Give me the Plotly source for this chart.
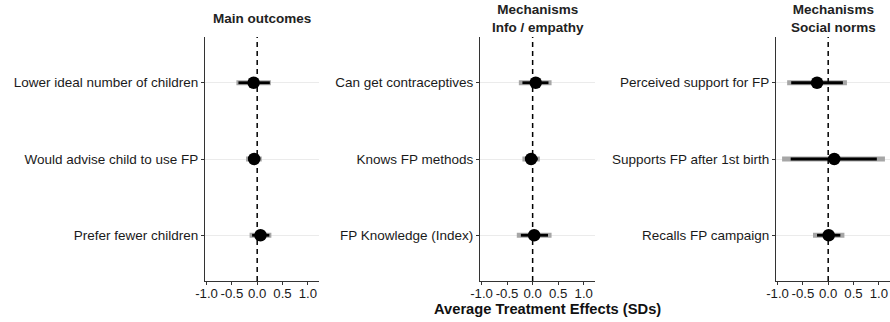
import plotly.graph_objects as go

# ---- data ----
panel_titles = ["Main outcomes", "Mechanisms<br>Info / empathy", "Mechanisms<br>Social norms"]

labels_main = ["Lower ideal number of children", "Would advise child to use FP", "Prefer fewer children"]
est_main = [-0.07, -0.06, 0.065]
lo95_main = [-0.41, -0.22, -0.15]
hi95_main = [0.27, 0.09, 0.28]
lo90_main = [-0.37, -0.18, -0.10]
hi90_main = [0.25, 0.06, 0.24]

labels_info = ["Can get contraceptives", "Knows FP methods", "FP Knowledge (Index)"]
est_info = [0.06, -0.03, 0.03]
lo95_info = [-0.27, -0.20, -0.31]
hi95_info = [0.37, 0.14, 0.37]
lo90_info = [-0.20, -0.15, -0.23]
hi90_info = [0.31, 0.10, 0.30]

labels_norms = ["Perceived support for FP", "Supports FP after 1st birth", "Recalls FP campaign"]
est_norms = [-0.22, 0.12, 0.01]
lo95_norms = [-0.81, -0.91, -0.30]
hi95_norms = [0.37, 1.12, 0.32]
lo90_norms = [-0.73, -0.74, -0.22]
hi90_norms = [0.29, 0.96, 0.24]

x_ticks = [-1.0, -0.5, 0.0, 0.5, 1.0]
x_title = "Average Treatment Effects (SDs)"

panels = [
    (labels_main, est_main, lo95_main, hi95_main, lo90_main, hi90_main),
    (labels_info, est_info, lo95_info, hi95_info, lo90_info, hi90_info),
    (labels_norms, est_norms, lo95_norms, hi95_norms, lo90_norms, hi90_norms),
]

W, H = 890, 322
x_pix = [(205, 319), (480, 595), (776, 890)]
y_top, y_bot = 37, 281
FONT = "Liberation Sans, Arial, sans-serif"

fig = go.Figure()
layout = dict(
    width=W, height=H,
    margin=dict(l=0, r=0, t=0, b=0, autoexpand=False),
    paper_bgcolor="white", plot_bgcolor="white",
    showlegend=False,
    font=dict(family=FONT, size=13.5, color="#1a1a1a"),
)
annotations = []
shapes = []

for i, (labs, est, lo95, hi95, lo90, hi90) in enumerate(panels):
    n = i + 1
    xa = "x" if n == 1 else f"x{n}"
    ya = "y" if n == 1 else f"y{n}"
    # 95% band (grey)
    fig.add_trace(go.Scatter(
        x=est, y=labs, xaxis=xa, yaxis=ya, mode="markers",
        marker=dict(size=1, color="rgba(0,0,0,0)"),
        error_x=dict(type="data", symmetric=False,
                     array=[h - e for h, e in zip(hi95, est)],
                     arrayminus=[e - l for e, l in zip(est, lo95)],
                     color="#a6a6a6", thickness=5, width=0),
        hoverinfo="skip"))
    # 90% band (black)
    fig.add_trace(go.Scatter(
        x=est, y=labs, xaxis=xa, yaxis=ya, mode="markers",
        marker=dict(size=1, color="rgba(0,0,0,0)"),
        error_x=dict(type="data", symmetric=False,
                     array=[h - e for h, e in zip(hi90, est)],
                     arrayminus=[e - l for e, l in zip(est, lo90)],
                     color="black", thickness=2.8, width=0),
        hoverinfo="skip"))
    # points
    fig.add_trace(go.Scatter(
        x=est, y=labs, xaxis=xa, yaxis=ya, mode="markers",
        marker=dict(size=12.5, color="black")))

    x0, x1 = x_pix[i]
    xdom = [x0 / W, x1 / W]
    ydom = [1 - y_bot / H, 1 - y_top / H]
    layout["xaxis" if n == 1 else f"xaxis{n}"] = dict(
        domain=xdom, anchor=ya, range=[-1.03, 1.22],
        tickvals=x_ticks, ticktext=[f"{v:.1f}" for v in x_ticks],
        tickangle=0, automargin=False, ticklabelstandoff=-3,
        showgrid=False, zeroline=False,
        showline=True, linecolor="#333", linewidth=1,
        ticks="outside", ticklen=3, tickcolor="#333",
        tickfont=dict(size=13.2, color="#1a1a1a"))
    layout["yaxis" if n == 1 else f"yaxis{n}"] = dict(
        domain=ydom, anchor=xa, type="category",
        categoryorder="array", categoryarray=list(reversed(labs)),
        range=[-0.6, 2.6], automargin=False,
        showgrid=True, gridcolor="#ebebeb", gridwidth=1,
        zeroline=False,
        showline=True, linecolor="#333", linewidth=1,
        ticks="outside", ticklen=3, tickcolor="#333",
        tickfont=dict(size=13.5, color="#1a1a1a"))
    shapes.append(dict(type="line", xref=xa, yref=f"{ya} domain",
                       x0=0, x1=0, y0=0, y1=1,
                       line=dict(color="black", width=1.5, dash="5px,4px")))
    annotations.append(dict(
        text=f"<b>{panel_titles[i]}</b>", xref="paper", yref="paper",
        x=(x0 + x1) / 2 / W, y=1 - 19 / H, xanchor="center", yanchor="middle",
        showarrow=False, font=dict(size=13.5, color="#222"), align="center"))

annotations.append(dict(
    text=f"<b>{x_title}</b>", xref="paper", yref="paper",
    x=547.5 / W, y=1 - 309 / H, xanchor="center", yanchor="middle",
    showarrow=False, font=dict(size=14.7, color="#111")))

layout["annotations"] = annotations
layout["shapes"] = shapes
fig.update_layout(**layout)
fig.write_html("out.html")
